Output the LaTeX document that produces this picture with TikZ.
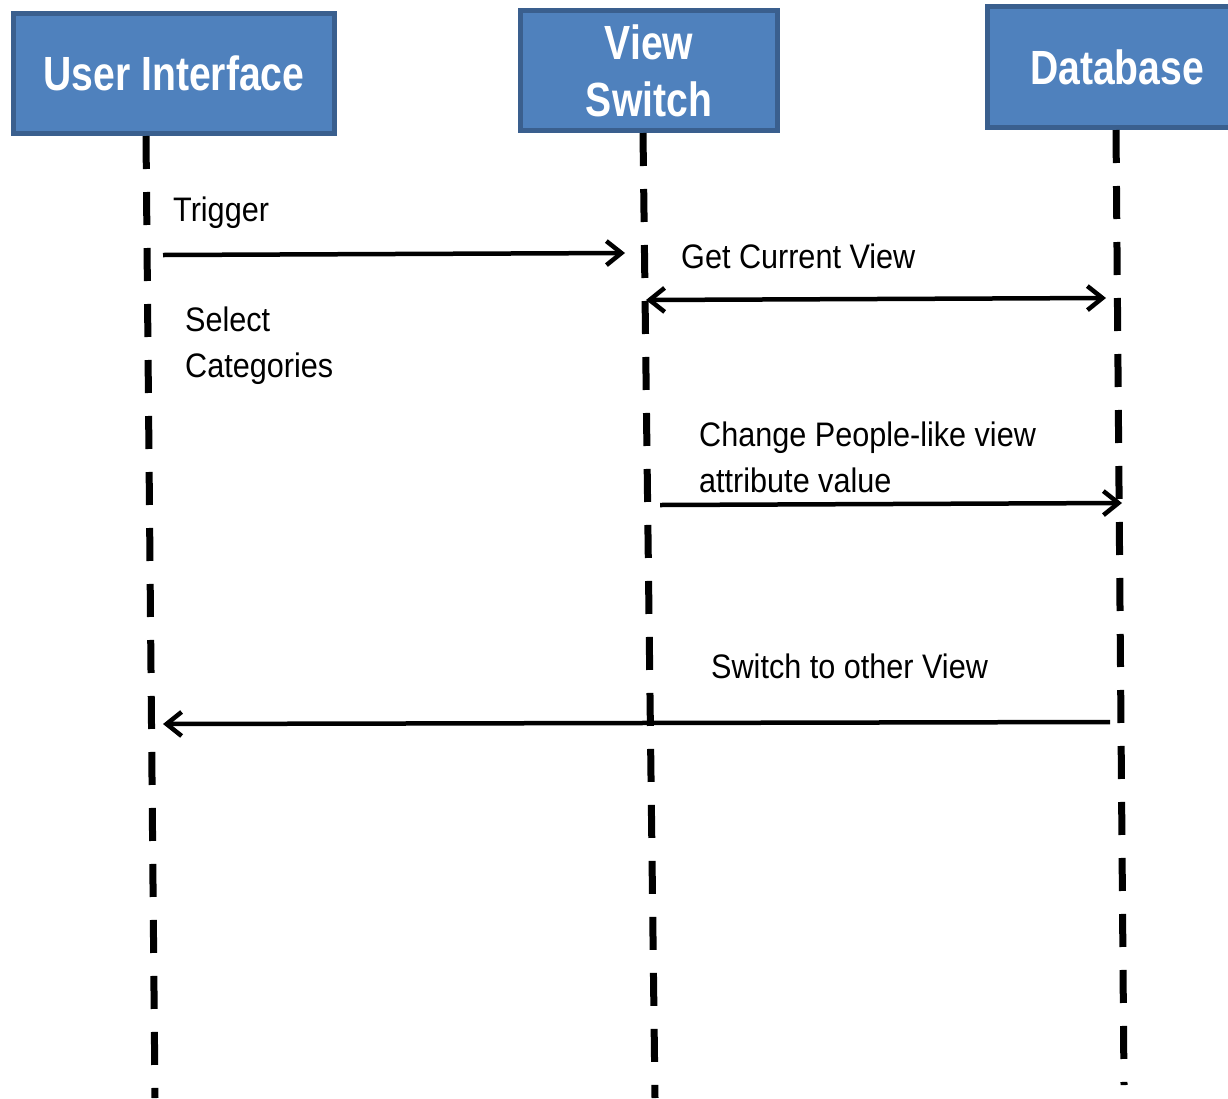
\documentclass[tikz,border=0pt]{standalone}
\usepackage{fontspec}
\usetikzlibrary{arrows.meta}
\newfontfamily\lblfont[FakeStretch=0.9]{Liberation Sans}
\newfontfamily\ttlfont[FakeStretch=0.815]{Liberation Sans}
\definecolor{boxfill}{HTML}{4F81BD}
\definecolor{boxline}{HTML}{3A5F8E}
\tikzset{
  actor/.style={rectangle, draw=boxline, fill=boxfill, line width=5pt, text=white,
    font=\ttlfont\bfseries\fontsize{48}{57}\selectfont, align=center, inner sep=0pt},
  lifeline/.style={line width=7pt, dash pattern=on 33pt off 23pt},
  msg/.style={line width=4.5pt, -{Straight Barb[length=15pt,width=24pt]}},
  lbl/.style={font=\lblfont\fontsize{34}{45.5}\selectfont, inner sep=0pt, anchor=base west, align=left}
}
\begin{document}
\begin{tikzpicture}[x=1pt,y=-1pt]
\useasboundingbox (0,0) rectangle (1228,1098);
% actors
\node[actor, minimum width=321pt, minimum height=120pt] (ui) at (174,73.5) {User Interface};
\node[actor, minimum width=257pt, minimum height=120pt] (vs) at (649,70.5) {View\\Switch};
\node[actor, minimum width=259pt, minimum height=121pt] (db) at (1117,67) {Database};
% lifelines
\coordinate (uitop) at (146,136);
\coordinate (uibot) at (155,1098);
\coordinate (vstop) at (643,133);
\coordinate (vsbot) at (655,1098);
\coordinate (dbtop) at (1116,130);
\coordinate (dbbot) at (1124,1085);
\draw[lifeline] (uitop) -- (uibot);
\draw[lifeline] (vstop) -- (vsbot);
\draw[lifeline] (dbtop) -- (dbbot);
% message end points
\coordinate (m1a) at (163,255);
\coordinate (m1b) at (625,253);
\coordinate (m2a) at (646,300);
\coordinate (m2b) at (1106,298);
\coordinate (m3a) at (660,505);
\coordinate (m3b) at (1122,503);
\coordinate (m4a) at (1110,722);
\coordinate (m4b) at (163,724);
\draw[msg] (m1a) -- (m1b);
\draw[msg, {Straight Barb[length=15pt,width=24pt]}-{Straight Barb[length=15pt,width=24pt]}] (m2a) -- (m2b);
\draw[msg] (m3a) -- (m3b);
\draw[msg] (m4a) -- (m4b);
% labels
\node[lbl] (l1) at (173,221) {Trigger};
\node[lbl] (l2) at (681,268) {Get Current View};
\node[lbl] (l3) at (185,377) {Select\\Categories};
\node[lbl] (l4) at (699,492) {Change People-like view\\attribute value};
\node[lbl] (l5) at (711,678) {Switch to other View};
\end{tikzpicture}
\end{document}
